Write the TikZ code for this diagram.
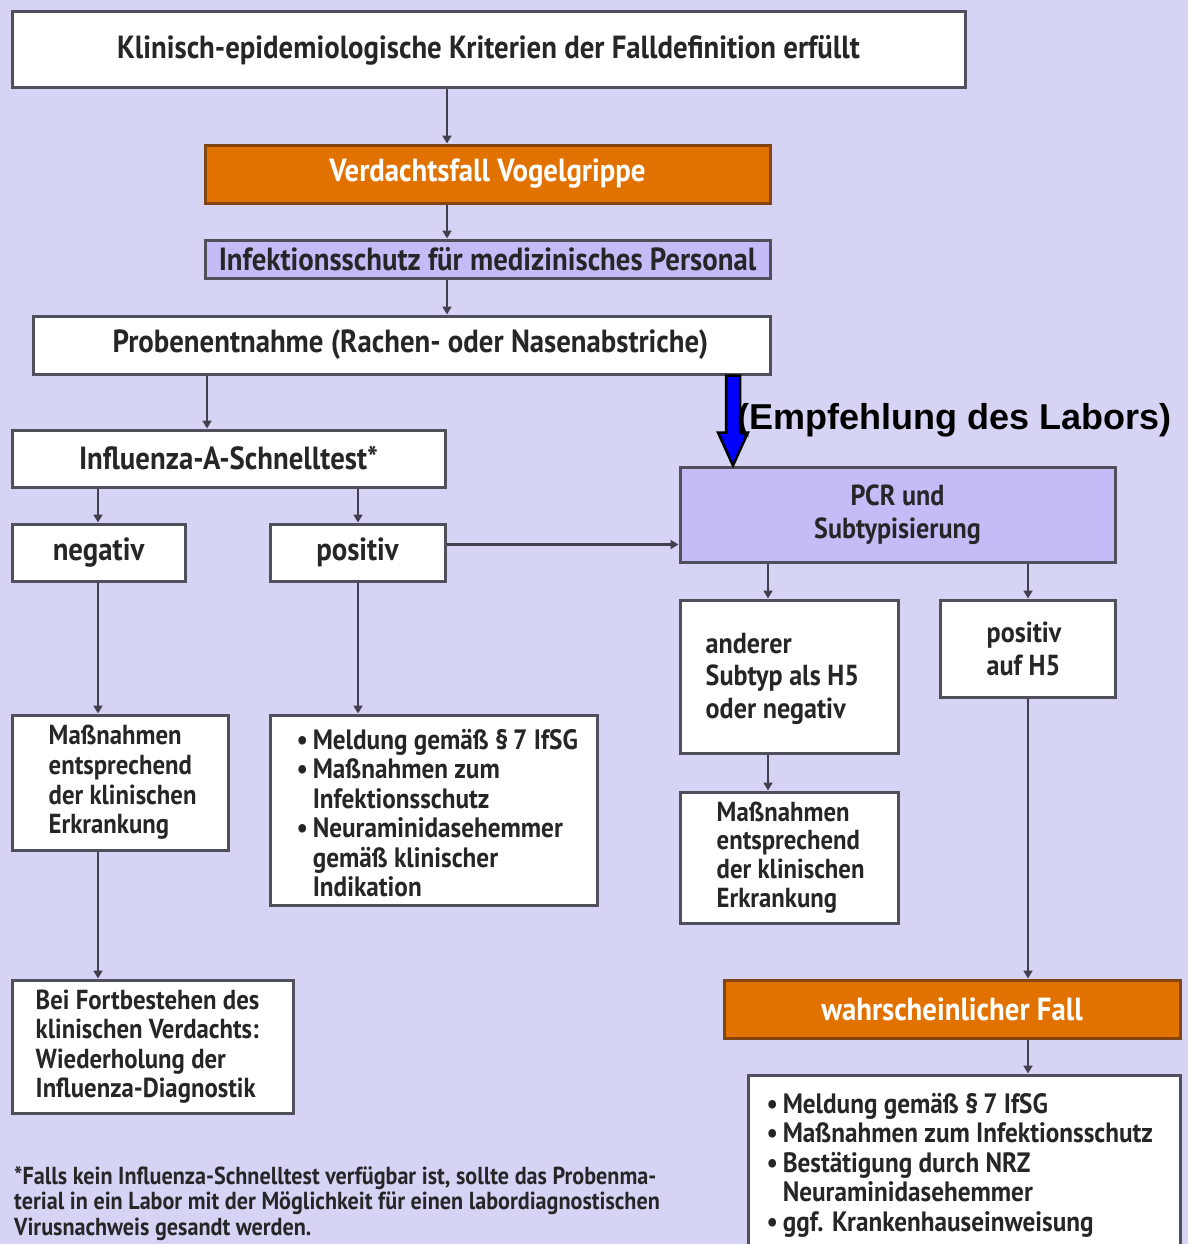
\documentclass[tikz,border=0pt]{standalone}
\usepackage{fontspec}
\setmainfont{PT Sans}[FakeStretch=0.9]
\newfontfamily\arialfont{Liberation Sans}
\usetikzlibrary{arrows.meta,calc}
\definecolor{bgc}{RGB}{214,212,244}
\definecolor{boxline}{RGB}{80,80,92}
\definecolor{orangef}{RGB}{226,114,0}
\definecolor{oline}{RGB}{130,70,20}
\definecolor{lavf}{RGB}{196,188,246}
\definecolor{txtc}{RGB}{38,38,40}
\definecolor{conc}{RGB}{64,64,80}
\tikzset{
  wbox/.style={draw=boxline, line width=3pt, fill=white, inner sep=0pt, text=txtc, font=\bfseries\fontsize{32}{35}\selectfont},
  obox/.style={wbox, draw=oline, fill=orangef, text=white},
  lbox/.style={wbox, fill=lavf},
  txt/.style={inner sep=0pt, text=txtc, align=left, font=\bfseries\fontsize{28}{29.5}\selectfont},
  conn/.style={draw=conc, line width=2.5pt, -{Triangle[length=8pt,width=9pt]}},
}
\begin{document}
\begin{tikzpicture}[x=1pt,y=-1pt]
\fill[bgc] (0,0) rectangle (1188,1244);
\useasboundingbox (0,0) rectangle (1188,1244);

% boxes
\node[wbox, minimum width=953pt, minimum height=76pt] (top) at (488.5,50) {Klinisch-epidemiologische Kriterien der Falldefinition erfüllt};
\node[obox, minimum width=565pt, minimum height=58pt] (verd) at (487.5,174) {Verdachtsfall Vogelgrippe};
\node[lbox, minimum width=565pt, minimum height=38pt] (infs) at (487.5,259) {Infektionsschutz für medizinisches Personal};
\node[wbox, minimum width=737pt, minimum height=58pt] (prob) at (401.5,345) {\hspace{18pt}Probenentnahme (Rachen- oder Nasenabstriche)};
\node[wbox, minimum width=433pt, minimum height=57pt] (schnell) at (228.5,458.5) {Influenza-A-Schnelltest*};
\node[wbox, minimum width=173pt, minimum height=57pt] (neg) at (98.5,552.5) {negativ};
\node[wbox, minimum width=175pt, minimum height=57pt] (pos) at (357.5,552.5) {positiv};
\node[lbox, minimum width=435pt, minimum height=95pt, align=center, font=\bfseries\fontsize{29}{33}\selectfont] (pcr) at (897.5,514.5) {PCR und\\Subtypisierung};
\node[wbox, minimum width=218pt, minimum height=153pt] (and) at (789,676.5) {};
\node[wbox, minimum width=175pt, minimum height=97pt] (h5) at (1027.5,648.5) {};
\node[wbox, minimum width=216pt, minimum height=135pt] (massL) at (120,782.5) {};
\node[wbox, minimum width=327pt, minimum height=190pt] (meld) at (433.5,810) {};
\node[wbox, minimum width=218pt, minimum height=131pt] (massR) at (789,857.5) {};
\node[wbox, minimum width=281pt, minimum height=133pt] (bei) at (152.5,1046.5) {};
\node[obox, minimum width=456pt, minimum height=58pt] (wahr) at (952,1009) {wahrscheinlicher Fall};
\node[wbox, minimum width=432pt, minimum height=180pt] (list) at (964,1165) {};

% texts in left-aligned boxes
\node[txt, anchor=west, font=\bfseries\fontsize{29}{32.5}\selectfont] (andT) at ([xshift=27pt,yshift=-2pt]and.west) {anderer\\Subtyp als H5\\oder negativ};
\node[txt, anchor=west, font=\bfseries\fontsize{29}{33}\selectfont] (h5T) at ([xshift=48pt]h5.west) {positiv\\auf H5};
\node[txt, anchor=west, font=\bfseries\fontsize{27.5}{29.7}\selectfont] (massLT) at ([xshift=38pt]massL.west) {Maßnahmen\\entsprechend\\der klinischen\\Erkrankung};
\node[txt, anchor=west, font=\bfseries\fontsize{27.5}{28.7}\selectfont] (massRT) at ([xshift=38pt]massR.west) {Maßnahmen\\entsprechend\\der klinischen\\Erkrankung};
\node[txt, anchor=west, font=\bfseries\fontsize{27.5}{29.3}\selectfont] (beiT) at ([xshift=25pt]bei.west) {Bei Fortbestehen des\\klinischen Verdachts:\\Wiederholung der\\Influenza-Diagnostik};
\node[txt, anchor=west] (meldT) at ([xshift=28pt,yshift=-3pt]meld.west) {%
\textbullet\,Meldung gemäß §\,7 IfSG\\
\textbullet\,Maßnahmen zum\\
\phantom{\textbullet\,}Infektionsschutz\\
\textbullet\,Neuraminidasehemmer\\
\phantom{\textbullet\,}gemäß klinischer\\
\phantom{\textbullet\,}Indikation};
\node[txt, anchor=west] (listT) at ([xshift=20pt]list.west) {%
\textbullet\,Meldung gemäß §\,7 IfSG\\
\textbullet\,Maßnahmen zum Infektionsschutz\\
\textbullet\,Bestätigung durch NRZ\\
\phantom{\textbullet\,}Neuraminidasehemmer\\
\textbullet\,ggf. Krankenhauseinweisung};

% footnote
\node[txt, anchor=north west, font=\bfseries\fontsize{24.6}{25.5}\selectfont] (foot) at (14,1166) {*Falls kein Influenza-Schnelltest verfügbar ist, sollte das Probenma-\\terial in ein Labor mit der Möglichkeit für einen labordiagnostischen\\Virusnachweis gesandt werden.};

% helper x positions
\coordinate (xA) at (447,0);
\coordinate (xB) at (207,0);
\coordinate (xN) at (98,0);
\coordinate (xP) at (358,0);
\coordinate (xL) at (768,0);
\coordinate (xR) at (1028,0);
\coordinate (xBl) at (733,0);

% connectors
\draw[conn] (top.south -| xA) -- (verd.north -| xA);
\draw[conn] (verd.south -| xA) -- (infs.north -| xA);
\draw[conn] (infs.south -| xA) -- (prob.north -| xA);
\draw[conn] (prob.south -| xB) -- (schnell.north -| xB);
\draw[conn] (schnell.south -| xN) -- (neg.north -| xN);
\draw[conn] (schnell.south -| xP) -- (pos.north -| xP);
\draw[conn] (neg.south -| xN) -- (massL.north -| xN);
\draw[conn] (pos.south -| xP) -- (meld.north -| xP);
\draw[conn] (massL.south -| xN) -- (bei.north -| xN);
\draw[conn] ([yshift=8pt]pos.east) -- ([yshift=8pt]pos.east -| pcr.west);
\draw[conn] (pcr.south -| xL) -- (and.north -| xL);
\draw[conn] (pcr.south -| xR) -- (h5.north -| xR);
\draw[conn] (and.south -| xL) -- (massR.north -| xL);
\draw[conn] (h5.south -| xR) -- (wahr.north -| xR);
\draw[conn] (wahr.south -| xR) -- (list.north -| xR);

% blue recommendation arrow
\coordinate (b1) at (prob.south -| xBl);
\coordinate (b2) at (pcr.north -| xBl);
\draw[fill=blue, draw=black, line width=2.5pt, line join=miter]
  ($(b1)+(-7,0)$) -- ($(b1)+(7,0)$) -- ($(b2)+(7,-33)$) -- ($(b2)+(15,-33)$) -- (b2)
  -- ($(b2)+(-15,-33)$) -- ($(b2)+(-7,-33)$) -- cycle;
\node[anchor=west, inner sep=0pt, font=\arialfont\bfseries\fontsize{36}{40}\selectfont] (lab) at (737,420) {(Empfehlung des Labors)};
\end{tikzpicture}
\end{document}
